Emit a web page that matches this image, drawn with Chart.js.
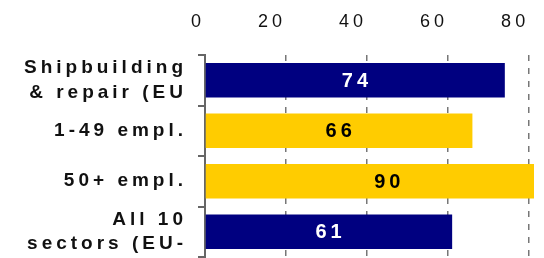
<!DOCTYPE html>
<html>
<head>
<meta charset="utf-8">
<script src="https://cdn.jsdelivr.net/npm/chart.js@4"></script>
<style>
    html, body { margin: 0; padding: 0; background: #fff; }
    #wrap { width: 544px; height: 258px; }
</style>
</head>
<body>
<div id="wrap"><canvas id="chart"></canvas></div>
<script>
const categories = [
    ['Shipbuilding', '& repair (EU'],
    '1-49 empl.',
    '50+ empl.',
    ['All 10', 'sectors (EU-'],
];
const values = [74, 66, 90, 61];
const xTicks = [0, 20, 40, 60, 80];

const NAVY = '#000080';
const YELLOW = '#ffcc00';
const barColors = [NAVY, YELLOW, YELLOW, NAVY];
const labelColors = ['#ffffff', '#000000', '#000000', '#ffffff'];
const FONT = '"Liberation Sans", Arial, sans-serif';

// the source chart uses wide tracking on all its text
const spacing = {
    id: 'spacing',
    beforeDraw(chart) {
        chart.ctx.letterSpacing = '4px';
    },
};

const barLabels = {
    id: 'barLabels',
    afterDatasetsDraw(chart) {
        const ctx = chart.ctx;
        const x = chart.scales.x;
        const meta = chart.getDatasetMeta(0);
        ctx.save();
        ctx.letterSpacing = '4px';
        ctx.font = 'bold 20px ' + FONT;
        ctx.textAlign = 'center';
        ctx.textBaseline = 'middle';
        meta.data.forEach((bar, i) => {
            const cx = x.getPixelForValue(values[i] / 2) + 2;
            ctx.fillStyle = labelColors[i];
            ctx.fillText(String(values[i]), cx, bar.y + 1);
        });
        ctx.restore();
    },
};

new Chart(document.getElementById('chart'), {
    type: 'bar',
    data: {
        labels: categories,
        datasets: [{
            data: values,
            backgroundColor: barColors,
            barPercentage: 0.68,
            categoryPercentage: 1,
        }],
    },
    options: {
        indexAxis: 'y',
        responsive: true,
        maintainAspectRatio: false,
        animation: false,
        layout: { padding: { top: 0, right: 10, bottom: 1, left: 0 } },
        plugins: {
            legend: { display: false },
            tooltip: { enabled: false },
        },
        scales: {
            x: {
                position: 'top',
                min: 0,
                max: 81.2,
                afterFit: (scale) => {
                    scale.height = 55;
                    scale.paddingLeft = 0;
                    scale.paddingRight = 0;
                },
                afterBuildTicks: (scale) => {
                    scale.ticks = xTicks.map((v) => ({ value: v }));
                },
                ticks: {
                    align: 'end',
                    padding: 22,
                    autoSkip: false,
                    color: '#111',
                    font: { family: FONT, size: 18 },
                },
                grid: {
                    drawTicks: false,
                    color: (c) => (c.tick && c.tick.value === 0 ? 'rgba(0,0,0,0)' : '#777'),
                    lineWidth: 1.5,
                },
                border: { display: false, dash: [6, 7] },
            },
            y: {
                afterFit: (scale) => {
                    scale.width = 205;
                    scale.paddingTop = 0;
                    scale.paddingBottom = 0;
                },
                ticks: {
                    padding: 11,
                    autoSkip: false,
                    color: '#111',
                    font: { family: FONT, size: 19, weight: 'bold', lineHeight: 1.3 },
                },
                grid: {
                    offset: true,
                    drawOnChartArea: false,
                    drawTicks: true,
                    tickLength: 7,
                    color: '#666',
                    lineWidth: 2,
                },
                border: { display: true, color: '#666', width: 2 },
            },
        },
    },
    plugins: [spacing, barLabels],
});
</script>
</body>
</html>
